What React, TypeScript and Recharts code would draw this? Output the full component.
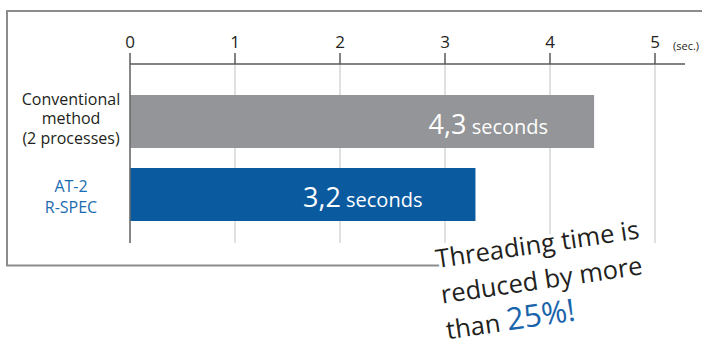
import React from "react";
import { BarChart, Bar, XAxis, YAxis, CartesianGrid, Cell, LabelList } from "recharts";

const categories = ["Conventional method (2 processes)", "AT-2 R-SPEC"];
const categoryLines = [["Conventional", "method", "(2 processes)"], ["AT-2", "R-SPEC"]];
const seconds = [4.42, 3.29];
const valueLabels = ["4,3", "3,2"];
const unitLabel = "seconds";
const xTicks = [0, 1, 2, 3, 4, 5];
const xMax = 5.2857;
const axisUnit = "(sec.)";
const barColors = ["#939598", "#0a5aa0"];
const categoryColors = ["#231f20", "#1b6bb0"];
const noteLines = ["Threading time is", "reduced by more", "than "];
const noteHighlight = "25%!";

const data = categories.map((c, i) => ({ name: c, value: seconds[i], label: valueLabels[i], idx: i }));

const FONT = "'Open Sans', 'Noto Sans', sans-serif";

const CategoryTick = (props: any) => {
  const { y, payload } = props;
  const i = categories.indexOf(payload.value);
  const lines = categoryLines[i] || [];
  const n = lines.length;
  const lh = n > 2 ? 19.5 : 21;
  const shift = n > 2 ? -3 : 2;
  return (
    <g>
      {lines.map((l, k) => (
        <text
          key={k}
          x={71}
          y={y + (k - (n - 1) / 2) * lh + shift + 5.5}
          textAnchor="middle"
          fontFamily={FONT}
          fontSize={16}
          fill={categoryColors[i]}
        >
          {l}
        </text>
      ))}
    </g>
  );
};

const BarValueLabel = (props: any) => {
  const { x, y, width, height, index } = props;
  const i = typeof index === "number" ? index : 0;
  const off = i === 0 ? 46 : 53;
  return (
    <text
      x={x + width - off}
      y={y + height / 2 + 12}
      textAnchor="end"
      fontFamily={FONT}
      fill="#ffffff"
    >
      <tspan fontSize={27}>{valueLabels[i]}</tspan>
      <tspan fontSize={20}>{" " + unitLabel}</tspan>
    </text>
  );
};

const gridX = (args: any) => {
  const xAxis = args && args.xAxis;
  if (xAxis && typeof xAxis.scale === "function") {
    return xTicks.map((t) => xAxis.scale(t));
  }
  const off = args.offset;
  return xTicks.map((t) => off.left + (t / xMax) * off.width);
};

export default function App() {
  return (
    <div style={{ position: "absolute", left: 0, top: 0, width: 702, height: 340, background: "#fff" }}>
      <BarChart
        width={702}
        height={340}
        data={data}
        layout="vertical"
        margin={{ top: 0, right: 17, bottom: 97, left: 0 }}
      >
        <CartesianGrid
          horizontal={false}
          vertical={true}
          stroke="#d6d6d6"
          strokeWidth={1.5}
          verticalCoordinatesGenerator={gridX}
        />
        <XAxis
          type="number"
          orientation="top"
          domain={[0, xMax]}
          ticks={xTicks}
          allowDataOverflow
          height={64}
          tickSize={11}
          tickMargin={5}
          axisLine={{ stroke: "#5a5a5a", strokeWidth: 1.5 }}
          tickLine={{ stroke: "#5a5a5a", strokeWidth: 1.5 }}
          tick={{ fontFamily: FONT, fontSize: 17, fill: "#231f20" }}
          interval={0}
        />
        <YAxis
          type="category"
          dataKey="name"
          width={130}
          padding={{ top: 21, bottom: 12 }}
          tickLine={false}
          axisLine={{ stroke: "#6a6a6a", strokeWidth: 1.5 }}
          tick={<CategoryTick />}
          interval={0}
        />
        <Bar dataKey="value" barSize={53} isAnimationActive={false}>
          {data.map((d, i) => (
            <Cell key={i} fill={barColors[i]} />
          ))}
          <LabelList dataKey="label" content={<BarValueLabel />} />
        </Bar>
      </BarChart>
      <svg
        width={702}
        height={340}
        style={{ position: "absolute", left: 0, top: 0, pointerEvents: "none" }}
      >
        <line x1={7} y1={11} x2={702} y2={11} stroke="#8c8c8c" strokeWidth={2} />
        <line x1={7} y1={10} x2={7} y2={266} stroke="#8c8c8c" strokeWidth={2} />
        <line x1={6} y1={265.5} x2={440} y2={265.5} stroke="#8c8c8c" strokeWidth={2} />
        <text x={673} y={50} fontFamily={FONT} fontSize={11} fill="#231f20">
          {axisUnit}
        </text>
        <g transform="rotate(-8.3 437 268)">
          {noteLines.map((l, k) => (
            <text
              key={k}
              x={437}
              y={268 + k * 36}
              fontFamily={FONT}
              fontSize={25.5}
              fill="#231f20"
              stroke="#ffffff"
              strokeWidth={7}
              strokeLinejoin="round"
              style={{ paintOrder: "stroke" }}
            >
              {l}
              {k === noteLines.length - 1 ? (
                <tspan fill="#1a64ac" fontSize={31}>
                  {noteHighlight}
                </tspan>
              ) : null}
            </text>
          ))}
        </g>
      </svg>
    </div>
  );
}
